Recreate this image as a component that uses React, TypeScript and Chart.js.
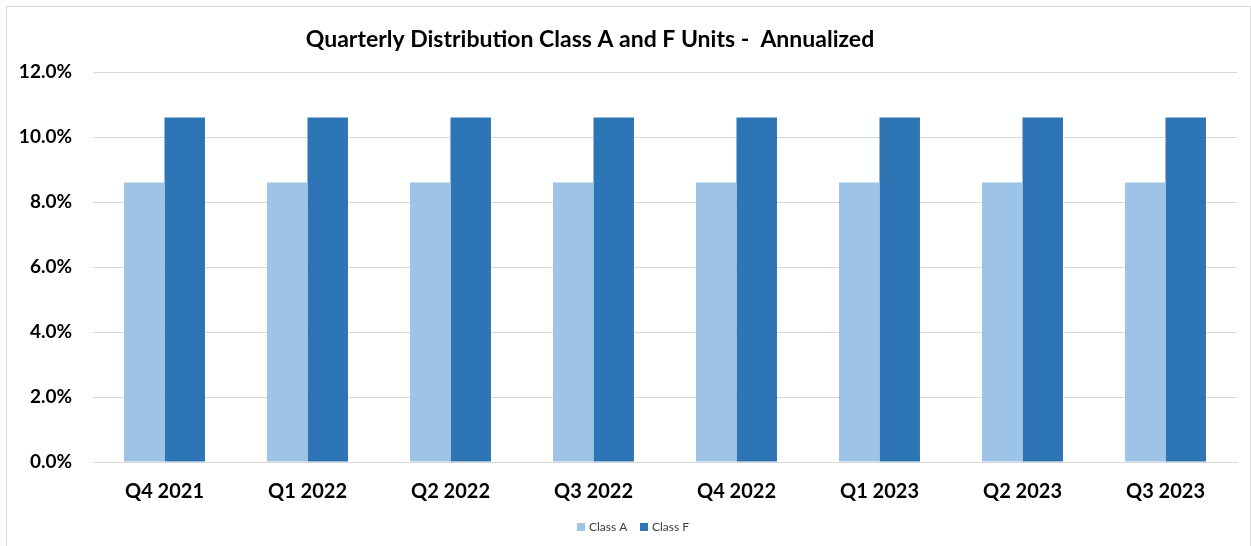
import React, { useEffect, useRef } from "react";
import { Chart, registerables } from "chart.js";

Chart.register(...registerables);

const categories = ["Q4 2021", "Q1 2022", "Q2 2022", "Q3 2022", "Q4 2022", "Q1 2023", "Q2 2023", "Q3 2023"];
const classA = [8.6, 8.6, 8.6, 8.6, 8.6, 8.6, 8.6, 8.6];
const classF = [10.6, 10.6, 10.6, 10.6, 10.6, 10.6, 10.6, 10.6];
const seriesNames = ["Class A", "Class F"];
const colors = ["#9DC3E6", "#2E75B6"];
const titleText = "Quarterly Distribution Class A and F Units -  Annualized";
const FONT = "Lato, 'Liberation Sans', sans-serif";

const decor = {
  id: "decor",
  beforeDraw(chart: any) {
    const ctx = chart.ctx;
    ctx.save();
    ctx.fillStyle = "#ffffff";
    ctx.fillRect(0, 0, chart.width, chart.height);
    ctx.strokeStyle = "#d9d9d9";
    ctx.lineWidth = 1;
    ctx.strokeRect(6.5, 6.5, chart.width - 7, chart.height + 10);
    ctx.restore();
  },
  afterDraw(chart: any) {
    const ctx = chart.ctx;
    ctx.save();
    ctx.fillStyle = "#000000";
    ctx.font = `bold 23px ${FONT}`;
    ctx.textAlign = "center";
    ctx.textBaseline = "middle";
    ctx.fillText(titleText, 590, 40);
    // legend
    ctx.font = `12px ${FONT}`;
    ctx.textAlign = "left";
    const items = [
      { x: 577, label: seriesNames[0], color: colors[0] },
      { x: 640, label: seriesNames[1], color: colors[1] },
    ];
    items.forEach((it) => {
      ctx.fillStyle = it.color;
      ctx.fillRect(it.x, 523, 8, 8);
      ctx.fillStyle = "#404040";
      ctx.fillText(it.label, it.x + 12, 527.5);
    });
    ctx.restore();
  },
};

export default function App() {
  const ref = useRef<HTMLCanvasElement>(null);
  useEffect(() => {
    document.body.style.margin = "0";
    const chart = new Chart(ref.current!, {
      type: "bar",
      data: {
        labels: categories,
        datasets: [
          { label: seriesNames[0], data: classA, backgroundColor: colors[0], borderWidth: 0 },
          { label: seriesNames[1], data: classF, backgroundColor: colors[1], borderWidth: 0 },
        ],
      },
      options: {
        animation: false,
        responsive: false,
        layout: { padding: { left: 0, right: 14, top: 72, bottom: 0 } },
        plugins: { legend: { display: false }, title: { display: false }, tooltip: { enabled: false } },
        datasets: { bar: { categoryPercentage: 0.566, barPercentage: 1 } },
        scales: {
          x: {
            grid: { display: false, drawTicks: false },
            border: { display: true, color: "#d9d9d9", width: 1 },
            ticks: { color: "#000", font: { family: FONT, size: 20, weight: "bold" }, padding: 18 },
            afterFit: (s: any) => { s.height = 84; },
          },
          y: {
            min: 0,
            max: 12,
            ticks: {
              stepSize: 2,
              color: "#000",
              padding: 21,
              font: { family: FONT, size: 19, weight: "bold" },
              callback: (v: any) => Number(v).toFixed(1) + "%",
            },
            grid: { color: "#d9d9d9", drawTicks: false },
            border: { display: false },
            afterFit: (s: any) => { s.width = 93; },
          },
        },
      },
      plugins: [decor],
    });
    return () => chart.destroy();
  }, []);
  return (
    <div style={{ position: "absolute", left: 0, top: 0, width: 1251, height: 546 }}>
      <canvas ref={ref} width={1251} height={546} style={{ width: 1251, height: 546 }} />
    </div>
  );
}
